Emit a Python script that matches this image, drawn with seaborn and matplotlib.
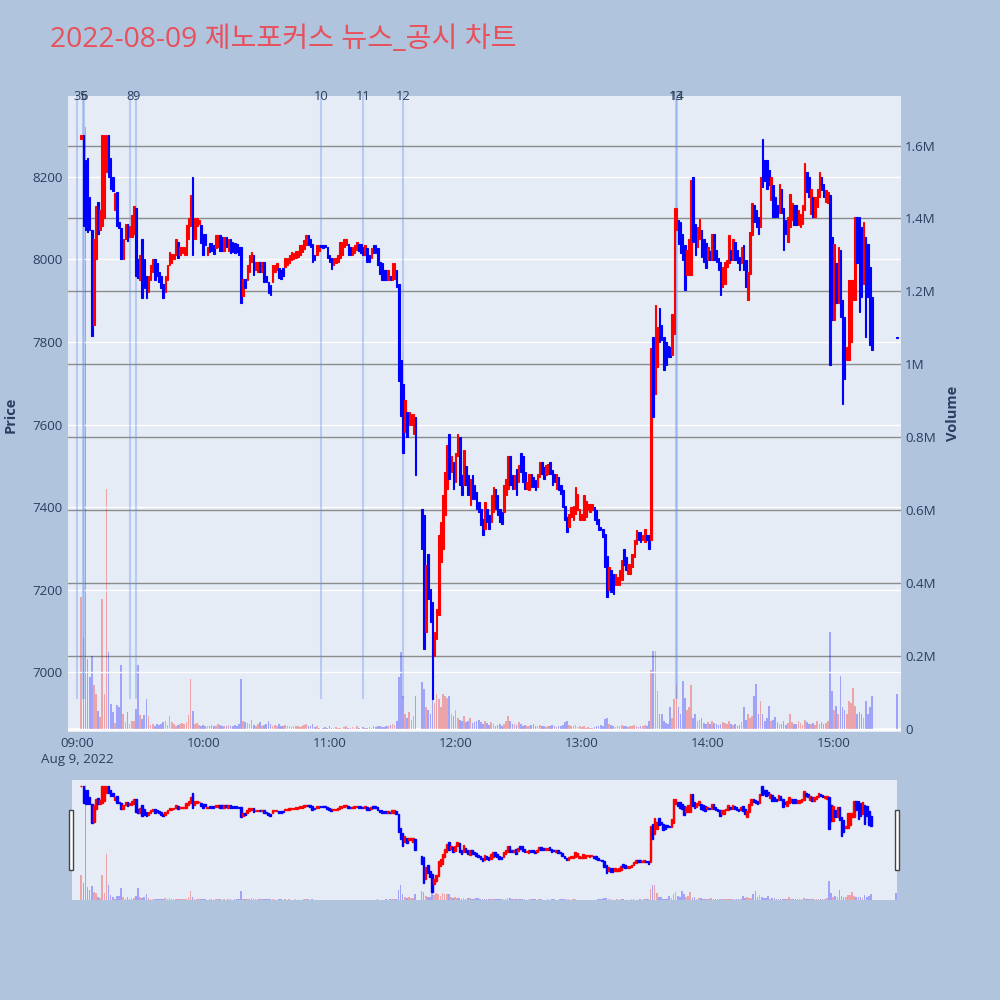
import numpy as np
import pandas as pd
import matplotlib
matplotlib.use("Agg")
import matplotlib.pyplot as plt
import seaborn as sns
from matplotlib.patches import Rectangle

sns.set_theme(style="white")
plt.rcParams['font.family'] = ['Open Sans', 'Noto Sans CJK KR', 'DejaVu Sans']

NaN = np.nan

# ---- data: one-minute candles, minute index after 09:00 ----
opens = [
    NaN, NaN, 8290, 8300, 8240, 8245, 8150, 8070, 7840, 8000,
    8138, 8070, 8080, 8100, 8212, 8300, 8245, 8200, 8120, 8163,
    8090, 8075, 8000, 8050, 8085, 8055, 8055, 8060, 8124, 8000,
    7950, 8050, 8000, 7960, 7920, 7950, 7970, 8000, 7990, 7970,
    7960, 7940, 7920, 7950, 7985, 7990, 8000, 8010, 8042, 8010,
    8015, 8010, 8010, 8050, 8080, 8200, 8050, 8080, 8085, 8082,
    8060, 8060, 8010, 8040, 8040, 8034, 8026, 8030, 8058, 8054,
    8020, 8054, 8020, 8050, 8042, 8040, 8038, 8030, 8030, 7910,
    7953, 7950, 7969, 7994, 8010, 7975, 7970, 7994, 7970, 7994,
    7960, 7945, 7937, 7945, 7970, 7975, 7980, 7975, 7980, 7982,
    7985, 7990, 7998, 8000, 8002, 8005, 8010, 8018, 8025, 8034,
    8058, 8050, 8038, 8010, 8010, 8020, 8034, 8034, 8034, 8030,
    8010, 8002, 7985, 7990, 7994, 8002, 8010, 8030, 8034, 8038,
    8030, 8010, 8015, 8022, 8038, 8038, 8030, 8010, 8026, 8010,
    8002, 8034, 8034, 8026, 7994, 7990, 7973, 7973, 7950, 7960,
    7950, 7953, 7973, 7941, 7755, 7699, 7582, 7630, 7598, 7600,
    7578, 7618, NaN, NaN, 7396, 7380, 7098, 7287, 7203, 7170,
    7041, 7082, 7138, 7267, 7300, 7380, 7445, 7578, 7485, 7509,
    7460, 7525, 7570, 7477, 7453, 7500, 7477, 7405, 7477, 7453,
    7437, 7413, 7396, 7372, 7348, 7396, 7380, 7364, 7388, 7445,
    7429, 7396, 7388, 7388, 7429, 7445, 7525, 7477, 7445, 7493,
    7461, 7530, 7525, 7485, 7445, 7441, 7481, 7473, 7465, 7449,
    7473, 7509, 7497, 7477, 7481, 7509, 7489, 7481, 7445, 7473,
    7453, 7441, 7404, 7376, 7352, 7376, 7368, 7384, 7392, 7368,
    7368, 7368, 7376, 7392, 7388, 7392, 7400, 7392, 7372, 7352,
    7348, 7336, 7283, 7199, 7247, 7239, 7211, 7211, 7211, 7223,
    7299, 7279, 7239, 7239, 7255, 7279, 7312, 7340, 7340, 7320,
    7316, 7332, 7332, 7320, 7812, 7675, 7739, 7881, 7840, 7812,
    7800, 7790, 7788, 7768, 7820, 8070, 8094, 8090, 8062, 8034,
    7961, 7961, 7961, 8199, 8086, 8030, 8050, 8070, 8050, 8040,
    7998, 8020, 7998, 8062, 8022, 8002, 7994, 7933, 7941, 7982,
    7990, 8022, 7998, 8042, 8022, 8006, 7990, 8034, 7998, 7901,
    7965, 8058, 8131, 8119, 8103, 8078, 8290, 8240, 8240, 8215,
    8143, 8179, 8150, 8131, 8111, 8171, 8123, 8094, 8042, 8078,
    8094, 8131, 8131, 8082, 8078, 8086, 8119, 8212, 8199, 8110,
    8151, 8102, 8127, 8151, 8199, 8183, 8139, 8135, 8155, 8054,
    7852, 7990, 7893, 8022, 7901, 7860, 7755, 7755, 7800, 7901,
    7901, 8102, 8102, 8078, 7941, 8054, 8038, 7981, 7909,
    7812,
]
closes = [
    NaN, NaN, 8300, 8080, 8070, 8065, 8070, 7815, 8050, 8130,
    8060, 8120, 8300, 8300, 8300, 8200, 8170, 8165, 8160, 8080,
    8075, 8000, 8050, 8085, 8045, 8080, 8107, 8130, 7960, 7955,
    8010, 7905, 7930, 7905, 7960, 7985, 8000, 7950, 7960, 7945,
    7930, 7905, 7960, 7985, 8018, 8013, 8013, 8050, 8002, 8030,
    8030, 8030, 8082, 8100, 8155, 8010, 8100, 8100, 8095, 8040,
    8010, 8035, 8030, 8018, 8020, 8012, 8058, 8058, 8020, 8020,
    8054, 8030, 8050, 8015, 8018, 8015, 8018, 8010, 7893, 7953,
    7930, 7985, 8010, 8018, 7961, 7994, 7994, 7970, 7994, 7945,
    7945, 7918, 7913, 7985, 7985, 7990, 7955, 7953, 7960, 8002,
    8002, 8010, 8018, 8015, 8021, 8021, 8034, 8034, 8046, 8058,
    8034, 8030, 7994, 7998, 8034, 8034, 8030, 8026, 8030, 8002,
    7994, 7977, 8002, 8002, 8010, 8042, 8042, 8050, 8050, 8010,
    8010, 8030, 8034, 8042, 8020, 8014, 8010, 8034, 7994, 7994,
    8026, 8014, 8014, 7985, 7965, 7950, 7950, 7950, 7973, 7950,
    7990, 7990, 7933, 7705, 7620, 7530, 7659, 7570, 7630, 7626,
    7626, 7478, NaN, NaN, 7300, 7057, 7259, 7179, 7122, 6936,
    7098, 7154, 7332, 7364, 7429, 7485, 7550, 7469, 7525, 7445,
    7530, 7578, 7453, 7429, 7538, 7453, 7429, 7469, 7420, 7420,
    7396, 7388, 7356, 7332, 7413, 7364, 7348, 7429, 7449, 7396,
    7380, 7364, 7360, 7453, 7469, 7525, 7453, 7445, 7477, 7429,
    7501, 7485, 7461, 7445, 7461, 7481, 7449, 7449, 7441, 7481,
    7509, 7481, 7469, 7501, 7505, 7481, 7453, 7461, 7481, 7441,
    7433, 7400, 7368, 7340, 7384, 7400, 7404, 7449, 7433, 7396,
    7384, 7429, 7416, 7408, 7408, 7408, 7368, 7360, 7344, 7344,
    7328, 7255, 7182, 7255, 7195, 7190, 7239, 7231, 7247, 7271,
    7259, 7247, 7263, 7263, 7287, 7320, 7344, 7320, 7316, 7332,
    7348, 7320, 7300, 7784, 7618, 7889, 7836, 7800, 7805, 7731,
    7745, 7764, 7764, 7868, 8123, 8123, 8038, 8014, 7998, 7925,
    8022, 8050, 8191, 8042, 8010, 8078, 8098, 8006, 7994, 7980,
    8030, 7998, 8062, 7998, 7994, 7974, 7913, 7982, 7994, 7998,
    8058, 7998, 8050, 7998, 7990, 7973, 8030, 7973, 7933, 7969,
    8066, 8135, 8090, 8078, 8062, 8199, 8175, 8190, 8171, 8180,
    8199, 8102, 8102, 8102, 8183, 8111, 8022, 8062, 8102, 8159,
    8135, 8082, 8082, 8119, 8110, 8131, 8232, 8163, 8151, 8171,
    8102, 8151, 8171, 8212, 8167, 8151, 8167, 8163, 7743, 7852,
    8038, 7893, 8030, 7860, 7650, 7711, 7788, 7949, 7949, 7949,
    8102, 7990, 7872, 7909, 8090, 7812, 7909, 7792, 7780,
    7810,
]
volumes_k = [
    0, 0, 360, 250, 1650, 190, 141, 200, 119, 95,
    49, 31, 357, 95, 658, 210, 68, 45, 15, 64,
    60, 175, 40, 18, 45, 12, 22, 22, 55, 175,
    37, 27, 37, 80, 35, 10, 12, 8, 14, 10,
    12, 18, 22, 10, 35, 18, 14, 8, 10, 12,
    15, 12, 18, 36, 136, 49, 12, 15, 10, 8,
    10, 8, 6, 8, 10, 6, 8, 12, 10, 6,
    8, 6, 10, 8, 6, 10, 8, 12, 136, 20,
    18, 15, 12, 25, 10, 8, 12, 18, 8, 10,
    12, 20, 14, 8, 10, 6, 12, 8, 6, 10,
    6, 8, 4, 6, 8, 6, 4, 6, 10, 12,
    8, 6, 14, 4, 6, 3, 0, 3, 4, 2,
    6, 2, 3, 4, 2, 3, 0, 4, 6, 3,
    2, 4, 3, 6, 2, 0, 4, 2, 3, 5,
    3, 6, 4, 8, 6, 5, 4, 8, 6, 10,
    12, 10, 20, 141, 209, 90, 40, 30, 45, 25,
    35, 90, 0, 0, 127, 110, 60, 50, 40, 180,
    70, 96, 80, 60, 96, 90, 85, 90, 40, 35,
    50, 30, 25, 20, 35, 18, 22, 30, 15, 18,
    22, 25, 18, 12, 20, 15, 10, 18, 12, 8,
    10, 14, 8, 12, 20, 35, 22, 12, 14, 10,
    18, 12, 8, 10, 6, 8, 10, 14, 8, 6,
    10, 8, 6, 4, 8, 6, 10, 8, 4, 6,
    8, 10, 18, 20, 10, 6, 8, 10, 4, 6,
    4, 6, 3, 4, 2, 3, 4, 6, 8, 10,
    8, 27, 30, 14, 10, 6, 4, 8, 6, 10,
    8, 6, 4, 6, 8, 10, 6, 4, 8, 6,
    10, 8, 20, 160, 214, 214, 104, 41, 41, 20,
    15, 12, 58, 30, 80, 120, 60, 40, 132, 85,
    50, 60, 121, 30, 40, 20, 25, 30, 15, 12,
    18, 14, 22, 16, 12, 10, 14, 18, 16, 12,
    20, 14, 10, 12, 8, 10, 18, 58, 25, 41,
    30, 35, 90, 123, 40, 77, 40, 22, 30, 63,
    20, 25, 33, 18, 14, 12, 20, 10, 16, 41,
    18, 12, 14, 20, 15, 10, 25, 18, 12, 14,
    16, 10, 20, 14, 18, 12, 16, 22, 266, 104,
    50, 63, 40, 145, 60, 50, 40, 77, 70, 112,
    63, 40, 45, 41, 30, 77, 40, 60, 90,
    96,
]
minutes = list(range(379)) + [390]

news_labels = ['3', '5', '6', '8', '9', '10', '11', '12', '13', '14']
news_minutes = [0.1, 3.0, 3.3, 25.2, 28.0, 116.0, 136.0, 155.0, 284.8, 285.5]

hour_minutes = [0, 60, 120, 180, 240, 300, 360]
hour_labels = ['09:00', '10:00', '11:00', '12:00', '13:00', '14:00', '15:00']
price_ticks = [7000, 7200, 7400, 7600, 7800, 8000, 8200]
vol_ticks = [0, 200e3, 400e3, 600e3, 800e3, 1000e3, 1200e3, 1400e3, 1600e3]
vol_tick_labels = ['0', '0.2M', '0.4M', '0.6M', '0.8M', '1M', '1.2M', '1.4M', '1.6M']

title = '2022-08-09 제노포커스 뉴스_공시 차트'

for name, arr in [('opens', opens), ('closes', closes), ('volumes', volumes_k)]:
    if len(arr) != len(minutes):
        raise ValueError(f"{name} has {len(arr)} values, expected {len(minutes)}")

# ---- frames ----
df = pd.DataFrame({'minute': minutes, 'open': opens, 'close': closes,
                   'volume': np.array(volumes_k, float) * 1000})
df['dir'] = np.where(df['close'] >= df['open'], 'up', 'down')
candles = df.dropna(subset=['open', 'close']).copy()
lo = candles[['open', 'close']].min(axis=1)
hi = candles[['open', 'close']].max(axis=1)
col_map = {'up': '#FF0000', 'down': '#0000FF'}
ccolors = candles['dir'].map(col_map).tolist()
vdf = df[df['volume'] > 0]

TXT = '#2a3f5f'
BG = '#B0C4DE'
PLOT_BG = '#E5ECF6'
XLIM = (-4.3, 391.8)
TICK_FS = 9.6

fig = plt.figure(figsize=(10, 10), dpi=100, facecolor=BG)

# ---- main panel: volume (right axis) underneath, price (left axis) on top ----
ax_vol = fig.add_axes([0.068, 0.268, 0.833, 0.636])
ax_vol.set_facecolor(PLOT_BG)
sns.barplot(data=vdf, x='minute', y='volume', hue='dir', palette=col_map,
            hue_order=['up', 'down'], native_scale=True, dodge=False,
            alpha=0.3, saturation=1, width=0.8, errorbar=None, legend=False,
            linewidth=0, ax=ax_vol)
ax_price = ax_vol.twinx()

ax_vol.set_ylim(-9.3e3, 1.736e6)
ax_vol.set_xlim(*XLIM)
ax_vol.set_axisbelow(True)
ax_vol.grid(False)
ax_vol.yaxis.grid(True, color='#8c8c8c', lw=1.0)
ax_vol.axhline(0, color='white', lw=2, zorder=0.8)
ax_vol.set_yticks(vol_ticks, vol_tick_labels)
ax_vol.set_xticks(hour_minutes, hour_labels)
ax_vol.yaxis.tick_right()
ax_vol.tick_params(axis='y', length=0, pad=3, labelsize=TICK_FS, labelcolor=TXT,
                   left=False, right=True, labelleft=False, labelright=True)
ax_vol.tick_params(axis='x', length=0, pad=3.5, labelsize=TICK_FS, labelcolor=TXT)
ax_vol.set_xlabel('')
ax_vol.set_ylabel('')
for s in ax_vol.spines.values():
    s.set_visible(False)

ax_price.yaxis.tick_left()
ax_price.set_ylim(6856, 8395)
ax_price.set_yticks(price_ticks)
ax_price.grid(False)
ax_price.yaxis.grid(True, color='white', lw=1.0)
ax_price.set_axisbelow(True)
ax_price.tick_params(axis='y', length=0, pad=4, labelsize=TICK_FS, labelcolor=TXT,
                     left=True, right=False, labelleft=True, labelright=False)
for s in ax_price.spines.values():
    s.set_visible(False)

ax_price.vlines(news_minutes, 6936, 8395, color=(0.39, 0.55, 0.94), alpha=0.35,
                lw=1.5, zorder=1)
for lab, m in zip(news_labels, news_minutes):
    ax_price.text(m, 8395, lab, ha='center', va='center', fontsize=9.3,
                  color=TXT, clip_on=False, zorder=5)

ax_price.bar(candles['minute'], hi - lo, bottom=lo, width=0.75, color=ccolors,
             edgecolor=ccolors, linewidth=0.8, zorder=3)
ax_price.set_xlim(*XLIM)

fig.text(0.077, 1 - 0.760, 'Aug 9, 2022', ha='center', va='center',
         fontsize=TICK_FS, color=TXT)
fig.text(0.011, 1 - 0.415, 'Price', rotation=90, ha='center', va='center',
         fontsize=10.5, fontweight='bold', color=TXT)
fig.text(0.953, 1 - 0.413, 'Volume', rotation=90, ha='center', va='center',
         fontsize=10.5, fontweight='bold', color=TXT)
fig.text(0.050, 1 - 0.040, title, ha='left', va='center', fontsize=20.3,
         color='#E8505B')

# ---- range slider ----
SL_XLIM = (-2.4, 390.4)
ax_s = fig.add_axes([0.072, 0.100, 0.825, 0.120])
ax_s.set_facecolor(PLOT_BG)
sns.barplot(data=vdf, x='minute', y='volume', hue='dir', palette=col_map,
            hue_order=['up', 'down'], native_scale=True, dodge=False,
            alpha=0.3, saturation=1, width=0.8, errorbar=None, legend=False,
            linewidth=0, ax=ax_s)
ax_s2 = ax_s.twinx()
ax_s.set_ylim(0, 1.722e6)
ax_s.set_xlim(*SL_XLIM)
ax_s2.bar(candles['minute'], hi - lo, bottom=lo, width=0.75, color=ccolors,
          edgecolor=ccolors, linewidth=1.0, zorder=3)
ax_s2.set_ylim(6833, 8373)
ax_s2.set_xlim(*SL_XLIM)
for a in (ax_s, ax_s2):
    a.grid(False)
    a.set_xticks([])
    a.set_yticks([])
    a.set_xlabel('')
    a.set_ylabel('')
    for s in a.spines.values():
        s.set_visible(False)

for x0 in (0.0690, 0.8952):
    fig.add_artist(Rectangle((x0, 0.130), 0.0040, 0.060, transform=fig.transFigure,
                             facecolor='white', edgecolor='#444444', lw=1.0))

fig.savefig('out.png', dpi=100, facecolor=fig.get_facecolor())
